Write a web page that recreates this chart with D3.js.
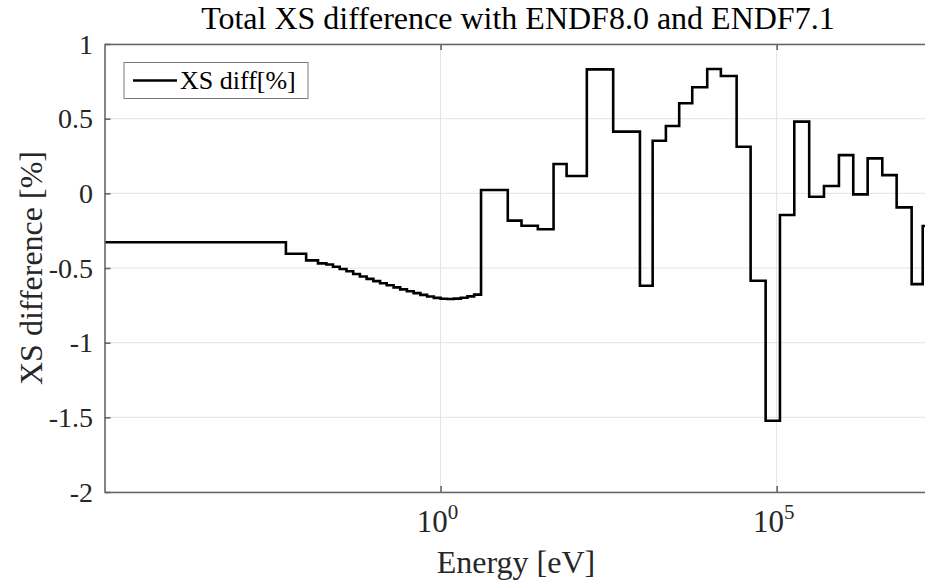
<!DOCTYPE html>
<html>
<head>
<meta charset="utf-8">
<script src="https://cdn.jsdelivr.net/npm/d3@7"></script>
<style>
  html, body { margin: 0; padding: 0; background: #fff; }
  svg { display: block; font-family: "Liberation Serif", "Times New Roman", serif; }
</style>
</head>
<body>
<svg id="chart" width="925" height="583"></svg>
<script>
// Group boundaries [eV]; each group i spans energyBounds[i]..energyBounds[i+1]
const energyBounds = [
  1e-5, 5e-3, 1e-2, 1.5e-2, 2e-2,
  0.0251, 0.0316, 0.0398, 0.0501, 0.0631, 0.0794, 0.1, 0.126, 0.158, 0.2,
  0.251, 0.316, 0.398, 0.501, 0.631, 0.794, 1.0, 1.26, 1.58, 2.0, 2.51, 3.16,
  4.0, 10, 16, 28, 48, 75, 150, 370, 925, 1430, 2250, 3550, 5550, 9270,
  14800, 25400, 41000, 68600, 112000, 183000, 305000, 506000, 845000,
  1.38e6, 2.26e6, 3.73e6, 6.1e6, 1.02e7, 1.49e7, 2e7
];

// Total cross-section difference per group [%]
const xsDiff = [
  -0.328, -0.405, -0.449, -0.469,
  -0.477, -0.492, -0.507, -0.522, -0.540, -0.557, -0.573, -0.588, -0.602, -0.616,
  -0.630, -0.643, -0.656, -0.668, -0.680, -0.691, -0.700, -0.706, -0.708, -0.705,
  -0.699, -0.690, -0.678,
  0.022, -0.183, -0.217, -0.241, 0.196, 0.116, 0.830, 0.413, -0.619, 0.352,
  0.451, 0.603, 0.710, 0.833, 0.786, 0.312, -0.585, -1.523, -0.145, 0.480,
  -0.023, 0.049, 0.256, -0.007, 0.234, 0.122, -0.094, -0.608, -0.219
];

const xTicks = [1e0, 1e5];
const xTickExp = ["0", "5"];
const yTicks = [-2, -1.5, -1, -0.5, 0, 0.5, 1];
const yTickLabels = ["-2", "-1.5", "-1", "-0.5", "0", "0.5", "1"];

const titleText = "Total XS difference with ENDF8.0 and ENDF7.1";
const xLabelText = "Energy [eV]";
const yLabelText = "XS difference [%]";
const legendText = "XS diff[%]";

const svg = d3.select("#chart");
const plot = { left: 104.5, right: 931.3, top: 44, bottom: 492 };

const x = d3.scaleLog().domain([1e-5, 2e7]).range([plot.left, plot.right]);
const y = d3.scaleLinear().domain([-2, 1]).range([plot.bottom, plot.top]);

const axisColor = "#666666";
const gridColor = "#e3e3e3";

// grid
const grid = svg.append("g");
grid.selectAll("line.gy").data(yTicks).enter().append("line")
  .attr("x1", plot.left).attr("x2", plot.right)
  .attr("y1", d => y(d)).attr("y2", d => y(d))
  .attr("stroke", gridColor).attr("stroke-width", 1);
grid.selectAll("line.gx").data(xTicks).enter().append("line")
  .attr("x1", d => x(d)).attr("x2", d => x(d))
  .attr("y1", plot.top).attr("y2", plot.bottom)
  .attr("stroke", gridColor).attr("stroke-width", 1);

// clip
svg.append("clipPath").attr("id", "plotClip").append("rect")
  .attr("x", plot.left).attr("y", plot.top)
  .attr("width", plot.right - plot.left).attr("height", plot.bottom - plot.top);

// step line
const pts = xsDiff.map((v, i) => [energyBounds[i], v]);
pts.push([energyBounds[energyBounds.length - 1], xsDiff[xsDiff.length - 1]]);
const line = d3.line().x(d => x(d[0])).y(d => y(d[1])).curve(d3.curveStepAfter);
svg.append("path")
  .attr("clip-path", "url(#plotClip)")
  .attr("d", line(pts))
  .attr("fill", "none").attr("stroke", "#000").attr("stroke-width", 2.6)
  .attr("stroke-linejoin", "miter");

// axes box with inward ticks
const axes = svg.append("g");
const bottomAxis = d3.axisBottom(x).tickValues(xTicks).tickSizeInner(-6).tickSizeOuter(0).tickFormat("");
const topAxis = d3.axisTop(x).tickValues(xTicks).tickSizeInner(-6).tickSizeOuter(0).tickFormat("");
const leftAxis = d3.axisLeft(y).tickValues(yTicks).tickSizeInner(-6).tickSizeOuter(0).tickFormat("");
const rightAxis = d3.axisRight(y).tickValues(yTicks).tickSizeInner(-6).tickSizeOuter(0).tickFormat("");
axes.append("g").attr("transform", `translate(0,${plot.bottom})`).call(bottomAxis);
axes.append("g").attr("transform", `translate(0,${plot.top})`).call(topAxis);
axes.append("g").attr("transform", `translate(${plot.left},0)`).call(leftAxis);
axes.append("g").attr("transform", `translate(${plot.right},0)`).call(rightAxis);
axes.selectAll("path.domain, line").attr("stroke", axisColor).attr("stroke-width", 1.6);

// y tick labels
svg.append("g").selectAll("text").data(yTicks).enter().append("text")
  .attr("x", 93).attr("y", d => y(d)).attr("dy", "0.34em")
  .attr("text-anchor", "end").attr("font-size", 28).attr("fill", "#262626")
  .text((d, i) => yTickLabels[i]);

// x tick labels (powers of ten)
const xl = svg.append("g").selectAll("text").data(xTicks).enter().append("text")
  .attr("x", d => x(d) - 3).attr("y", 532)
  .attr("text-anchor", "middle").attr("font-size", 31).attr("fill", "#262626");
xl.append("tspan").text("10");
xl.append("tspan").attr("font-size", 21).attr("dy", -13).text((d, i) => xTickExp[i]);

// title and axis labels
svg.append("text").attr("x", (plot.left + plot.right) / 2).attr("y", 29)
  .attr("text-anchor", "middle").attr("font-size", 32).attr("fill", "#000").text(titleText);
svg.append("text").attr("x", 516).attr("y", 573)
  .attr("text-anchor", "middle").attr("font-size", 32).attr("fill", "#262626").text(xLabelText);
svg.append("text").attr("transform", "translate(42,268) rotate(-90)")
  .attr("text-anchor", "middle").attr("font-size", 32).attr("fill", "#262626").text(yLabelText);

// legend
const lg = svg.append("g");
lg.append("rect").attr("x", 124).attr("y", 62.5).attr("width", 184).attr("height", 36)
  .attr("fill", "#fff").attr("stroke", "#7a7a7a").attr("stroke-width", 1);
lg.append("line").attr("x1", 133).attr("x2", 177).attr("y1", 80.5).attr("y2", 80.5)
  .attr("stroke", "#000").attr("stroke-width", 2.6);
lg.append("text").attr("x", 180).attr("y", 80.5).attr("dy", "0.34em")
  .attr("font-size", 26).attr("fill", "#000").text(legendText);
</script>
</body>
</html>
